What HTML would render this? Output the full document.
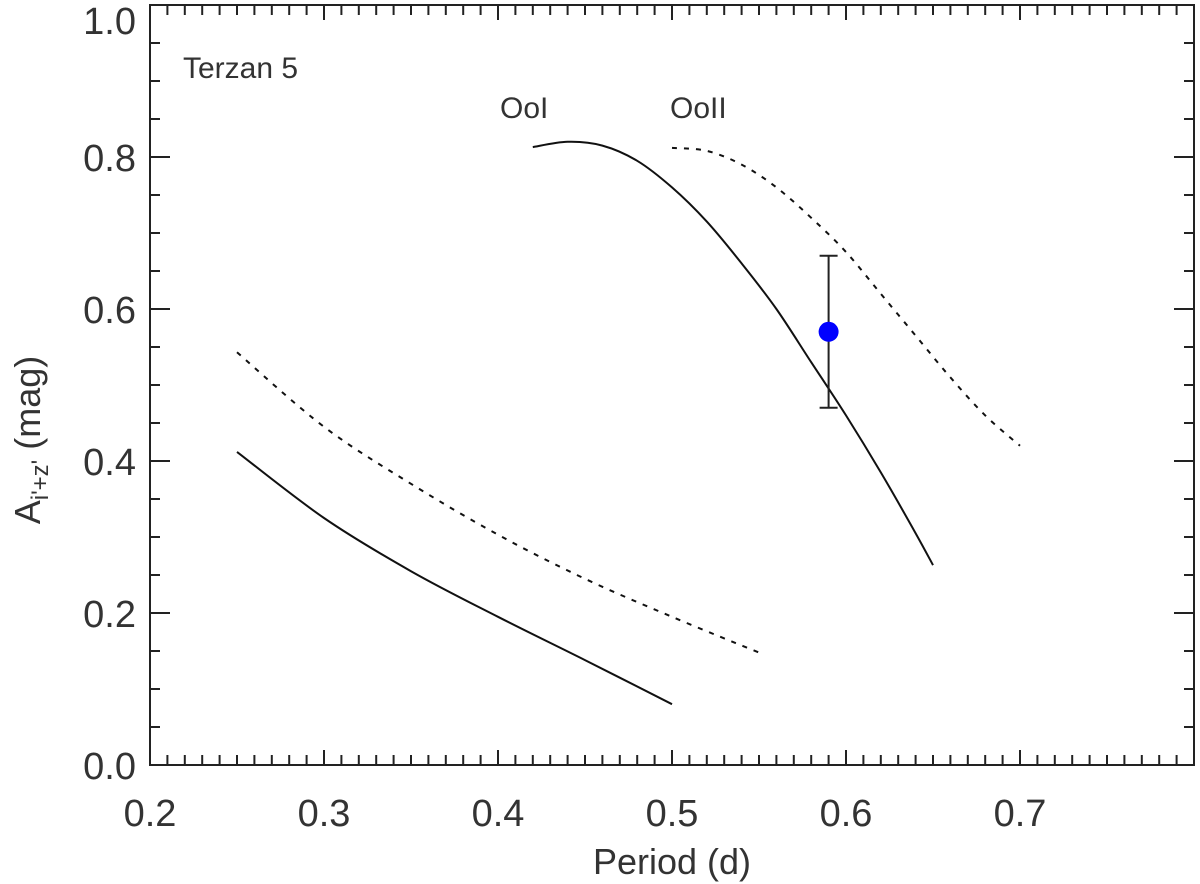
<!DOCTYPE html>
<html><head><meta charset="utf-8"><style>
body{margin:0;background:#fff}
svg{display:block}
text{font-family:"Liberation Sans",sans-serif;fill:#333}
</style></head><body>
<svg id="chart" width="1200" height="884" viewBox="0 0 1200 884">
<g id="axes"></g><g id="marks"></g>
</svg>
<script>
const xTicks=[0.2,0.3,0.4,0.5,0.6,0.7];
const yTicks=[0.0,0.2,0.4,0.6,0.8,1.0];
const ooIx=[0.42,0.44,0.46,0.48,0.50,0.52,0.54,0.56,0.58,0.60,0.62,0.64,0.65];
const ooIy=[0.813,0.82,0.815,0.795,0.76,0.715,0.66,0.60,0.53,0.46,0.385,0.305,0.263];
const ooIIx=[0.50,0.52,0.54,0.56,0.58,0.60,0.62,0.64,0.66,0.68,0.70];
const ooIIy=[0.812,0.808,0.79,0.76,0.72,0.675,0.62,0.565,0.51,0.46,0.42];
const lowSx=[0.25,0.30,0.35,0.40,0.45,0.50];
const lowSy=[0.412,0.325,0.255,0.195,0.138,0.08];
const lowDx=[0.25,0.30,0.35,0.40,0.45,0.50,0.55];
const lowDy=[0.543,0.445,0.37,0.303,0.245,0.195,0.148];
const starP=[0.59];
const starA=[0.57];
const starErr=[0.10];

const L=150,R=1194,T=5,B=765;
const X=v=>L+(v-0.2)/0.6*(R-L);
const Y=v=>B-v*(B-T);
const NS="http://www.w3.org/2000/svg";
function mk(tag,attrs,parent){const e=document.createElementNS(NS,tag);for(const k in attrs)e.setAttribute(k,attrs[k]);parent.appendChild(e);return e;}
const ax=document.getElementById('axes'),mg=document.getElementById('marks');
const frame=mk('rect',{x:L,y:T,width:R-L,height:B-T,fill:'none',stroke:'#222','stroke-width':2},ax);


let d='';
for(let i=0;i<=60;i++){const v=0.2+i*0.01,x=X(v),len=(i%10===0)?15:10;d+=`M${x},${B}v${-len}M${x},${T}v${len}`;}
for(let i=0;i<=20;i++){const v=i*0.05,y=Y(v),len=(i%4===0)?20:10;d+=`M${L},${y}h${len}M${R},${y}h${-len}`;}
const tk=mk('path',{d:d,stroke:'#222','stroke-width':2,fill:'none'},ax);


xTicks.forEach(v=>{const t=mk('text',{x:X(v),y:826,'text-anchor':'middle','font-size':38},ax);t.textContent=v.toFixed(1);

});
yTicks.forEach(v=>{const yy=Math.max(Y(v)+14,34);const t=mk('text',{x:136,y:yy,'text-anchor':'end','font-size':38},ax);t.textContent=v.toFixed(1);

});
const xt=mk('text',{x:672,y:874,'text-anchor':'middle','font-size':36},ax);xt.textContent='Period (d)';


const yt=mk('text',{x:0,y:0,'text-anchor':'middle','font-size':36,transform:'translate(40,440) rotate(-90)'},ax);
yt.innerHTML='A<tspan font-size="24" dy="8">i\'+z\'</tspan><tspan dy="-8"> (mag)</tspan>';


function line(xs,ys,dash,name){
const P=xs.map((x,i)=>[X(x),Y(ys[i])]);
let p=`M${P[0][0].toFixed(1)},${P[0][1].toFixed(1)}`;
for(let i=0;i<P.length-1;i++){const p0=P[Math.max(i-1,0)],p1=P[i],p2=P[i+1],p3=P[Math.min(i+2,P.length-1)];
const c1=[p1[0]+(p2[0]-p0[0])/6,p1[1]+(p2[1]-p0[1])/6],c2=[p2[0]-(p3[0]-p1[0])/6,p2[1]-(p3[1]-p1[1])/6];
p+=`C${c1[0].toFixed(1)},${c1[1].toFixed(1)} ${c2[0].toFixed(1)},${c2[1].toFixed(1)} ${p2[0].toFixed(1)},${p2[1].toFixed(1)}`;}
const e=mk('path',{d:p,fill:'none',stroke:'#111','stroke-width':2,'stroke-dasharray':dash?'5,7':'none'},mg);

}
line(ooIx,ooIy,false,'ooi-upper-curve');
line(ooIIx,ooIIy,true,'ooii-upper-curve');
line(lowSx,lowSy,false,'ooi-lower-curve');
line(lowDx,lowDy,true,'ooii-lower-curve');
starP.forEach((p,i)=>{const x=X(p),y1=Y(starA[i]+starErr[i]),y2=Y(starA[i]-starErr[i]);
const eb=mk('path',{d:`M${x},${y1}V${y2}M${x-9},${y1}h18M${x-9},${y2}h18`,stroke:'#222','stroke-width':2,fill:'none'},mg);


const c=mk('circle',{cx:x,cy:Y(starA[i]),r:10,fill:'#0000ff'},mg);

});
[['Terzan 5',183,78,'cluster-label'],['OoI',500,118,'ooi-label'],['OoII',670,118,'ooii-label']].forEach(a=>{
const t=mk('text',{x:a[1],y:a[2],'font-size':30},mg);t.textContent=a[0];

});
</script>
</body></html>
